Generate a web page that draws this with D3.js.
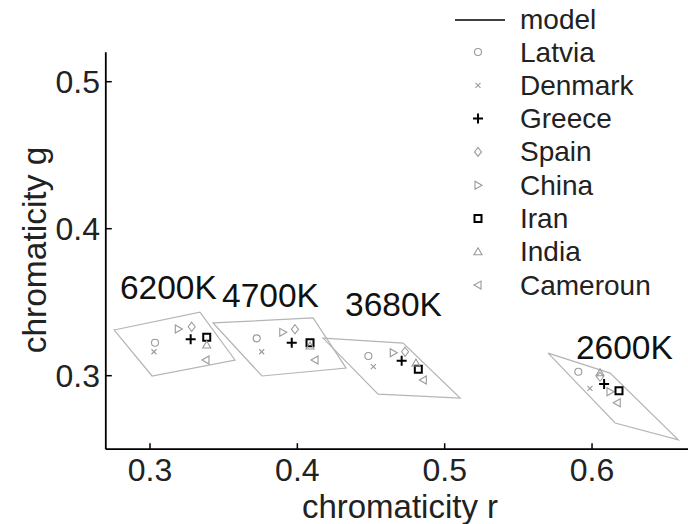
<!DOCTYPE html>
<html><head><meta charset="utf-8">
<script src="https://cdn.jsdelivr.net/npm/d3@7"></script>
<style>body{margin:0;background:#fff}svg{display:block}text{font-family:"Liberation Sans",Arial,sans-serif}</style>
</head><body><svg id="c" width="688" height="524"></svg>
<script>
// temperatures
const temps = ["6200K","4700K","3680K","2600K"];
// model quadrilaterals [r,g]
const model6200 = [[0.2756,0.3311],[0.3339,0.3433],[0.3577,0.3107],[0.3014,0.2998]];
const model4700 = [[0.3428,0.3359],[0.4107,0.3393],[0.4331,0.3052],[0.3760,0.2998]];
const model3680 = [[0.4174,0.3256],[0.4718,0.3222],[0.5105,0.2848],[0.4548,0.2875]];
const model2600 = [[0.5702,0.3154],[0.6123,0.3018],[0.6585,0.2563],[0.6157,0.2678]];
// label anchors [r,g]
const labelPos = [[0.2796,0.3522],[0.3489,0.3467],[0.4324,0.3406],[0.5891,0.3114]];
const countries = ["Latvia","Denmark","Greece","Spain","China","Iran","India","Cameroun"];
// per country: r,g at 6200K,4700K,3680K,2600K
const rVals = {
  Latvia:[0.3034,0.3724,0.4482,0.5907],
  Denmark:[0.3027,0.3758,0.4516,0.5986],
  Greece:[0.3276,0.3962,0.4708,0.6082],
  Spain:[0.3283,0.3984,0.4731,0.6054],
  China:[0.3192,0.3901,0.4651,0.6122],
  Iran:[0.3385,0.4086,0.4821,0.6183],
  India:[0.3385,0.4086,0.4805,0.6054],
  Cameroun:[0.3380,0.4120,0.4855,0.6171]
};
const gVals = {
  Latvia:[0.3224,0.3254,0.3134,0.3027],
  Denmark:[0.3163,0.3163,0.3061,0.2914],
  Greece:[0.3248,0.3224,0.3102,0.2944],
  Spain:[0.3333,0.3316,0.3163,0.2993],
  China:[0.3318,0.3295,0.3156,0.2891],
  Iran:[0.3261,0.3224,0.3044,0.2898],
  India:[0.3209,0.3202,0.3086,0.3020],
  Cameroun:[0.3107,0.3107,0.2971,0.2816]
};
const xTicks = [0.3,0.4,0.5,0.6];
const yTicks = [0.3,0.4,0.5];

const models = [model6200, model4700, model3680, model2600];
const svg = d3.select("#c");
const x = d3.scaleLinear().domain([0.27,0.665]).range([105.8,687.8]);
const y = d3.scaleLinear().domain([0.25,0.52]).range([449.2,52.3]);
const gray = "#9a9a9a";

// model polygons
svg.append("g").selectAll("path").data(models).join("path")
  .attr("d", d => d3.line().x(p=>x(p[0])).y(p=>y(p[1]))(d) + "Z")
  .attr("fill","none").attr("stroke","#b4b4b4").attr("stroke-width",1.2);

const style = {
  Latvia:{c:gray, s:"circle"}, Denmark:{c:gray,s:"x"}, Greece:{c:"#000",s:"plus"},
  Spain:{c:gray,s:"diamond"}, China:{c:gray,s:"tright"}, Iran:{c:"#000",s:"square"},
  India:{c:gray,s:"tup"}, Cameroun:{c:gray,s:"tleft"}
};
function marker(g, cx, cy, name){
  const st = style[name];
  const e = g.append("path").attr("fill","none").attr("stroke",st.c)
    .attr("transform",`translate(${cx},${cy})`);
  let d="";
  switch(st.s){
    case "circle": d="M3.5,0A3.5,3.5 0 1,1 -3.5,0A3.5,3.5 0 1,1 3.5,0"; e.attr("stroke-width",1.1); break;
    case "x": d="M-2.5,-2.5L2.5,2.5M-2.5,2.5L2.5,-2.5"; e.attr("stroke-width",1.1); break;
    case "plus": d="M-5,0L5,0M0,-5L0,5"; e.attr("stroke-width",2); break;
    case "diamond": d="M0,-4.5L3.5,0L0,4.5L-3.5,0Z"; e.attr("stroke-width",1.1); break;
    case "tright": d="M4,0L-3,-4L-3,4Z"; e.attr("stroke-width",1.1); break;
    case "tleft": d="M-4,0L3,-4L3,4Z"; e.attr("stroke-width",1.1); break;
    case "tup": d="M0,-4L4,3L-4,3Z"; e.attr("stroke-width",1.1); break;
    case "square": d="M-3.5,-3.5H3.5V3.5H-3.5Z"; e.attr("stroke-width",2); break;
  }
  e.attr("d",d);
}
const mg = svg.append("g");
countries.forEach(c => {
  rVals[c].forEach((r,i) => marker(mg, x(r), y(gVals[c][i]), c));
});

// temperature labels
svg.append("g").selectAll("text").data(temps).join("text")
  .attr("x",(d,i)=>x(labelPos[i][0])).attr("y",(d,i)=>y(labelPos[i][1]))
  .attr("font-size",33.5).attr("fill","#111").text(d=>d);

// axes
const ax = svg.append("g").attr("stroke","#000");
ax.append("line").attr("x1",x(0.27)).attr("x2",688).attr("y1",y(0.25)).attr("y2",y(0.25)).attr("stroke-width",1.8);
ax.append("line").attr("x1",x(0.27)).attr("x2",x(0.27)).attr("y1",y(0.25)).attr("y2",y(0.52)).attr("stroke-width",1.8);
ax.selectAll(".xt").data(xTicks).join("line").attr("x1",d=>x(d)).attr("x2",d=>x(d))
  .attr("y1",y(0.25)).attr("y2",y(0.25)-6).attr("stroke-width",1.5);
ax.selectAll(".yt").data(yTicks).join("line").attr("y1",d=>y(d)).attr("y2",d=>y(d))
  .attr("x1",x(0.27)).attr("x2",x(0.27)+6).attr("stroke-width",1.5);
svg.append("g").selectAll("text").data(xTicks).join("text")
  .attr("x",d=>x(d)).attr("y",481).attr("text-anchor","middle").attr("font-size",32).attr("fill","#222")
  .text(d=>d3.format(".1f")(d));
svg.append("g").selectAll("text").data(yTicks).join("text")
  .attr("x",100).attr("y",d=>y(d)+11).attr("text-anchor","end").attr("font-size",32).attr("fill","#222")
  .text(d=>d3.format(".1f")(d));
svg.append("text").attr("x",400).attr("y",518).attr("text-anchor","middle").attr("font-size",33).attr("fill","#222").text("chromaticity r");
svg.append("text").attr("transform","translate(46,250) rotate(-90)").attr("text-anchor","middle").attr("font-size",33.5).attr("fill","#222").text("chromaticity g");

// legend
const lg = svg.append("g");
lg.append("line").attr("x1",455).attr("x2",505).attr("y1",20).attr("y2",20).attr("stroke","#000").attr("stroke-width",1.5);
lg.append("text").attr("x",520).attr("y",29).attr("font-size",28).attr("fill","#222").text("model");
countries.forEach((c,i) => {
  const yy = 52 + i*33.3;
  marker(lg, 478, yy, c);
  lg.append("text").attr("x",520).attr("y",yy+9.5).attr("font-size",28).attr("fill","#222").text(c);
});
</script></body></html>
